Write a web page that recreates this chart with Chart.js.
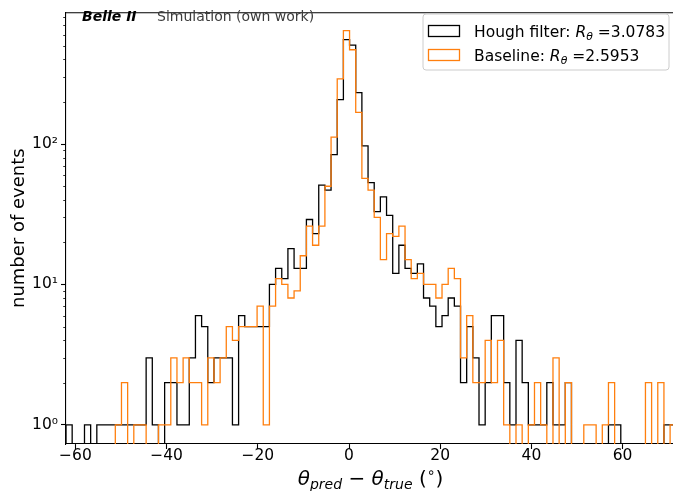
<!DOCTYPE html>
<html>
<head>
<meta charset="utf-8">
<script src="https://cdn.jsdelivr.net/npm/chart.js@4.4.1/dist/chart.umd.min.js"></script>
<style>
  html, body { margin: 0; padding: 0; background: #ffffff; overflow: hidden; }
  #wrap { position: relative; width: 680px; height: 491px; }
</style>
</head>
<body>
<div id="wrap"><canvas id="hist" width="680" height="491"></canvas></div>
<script>
// Histogram binning of the angle residual (degrees): 100 equal bins
const binEdgeMin = -62.07;
const binWidth = 1.352;

// Counts per bin, Hough filter
const houghCounts = [
  1, 0, 0, 1, 0, 1, 1, 1, 1, 1,
  1, 1, 1, 3, 1, 0, 2, 2, 1, 1,
  3, 6, 5, 2, 3, 3, 3, 1, 6, 5,
  5, 5, 5, 10, 13, 11, 18, 13, 13, 29,
  23, 51, 47, 84, 207, 554, 506, 232, 97, 53,
  33, 42, 31, 12, 19, 13, 12, 14, 8, 7,
  5, 6, 8, 7, 2, 5, 3, 1, 2, 6,
  6, 2, 1, 4, 2, 1, 1, 1, 2, 1,
  1, 2, 0, 0, 0, 0, 0, 0, 1, 1,
  0, 0, 0, 0, 0, 0, 0, 1, 1, 0
];

// Counts per bin, baseline
const baselineCounts = [
  0, 0, 0, 0, 0, 0, 0, 0, 1, 2,
  0, 1, 1, 0, 0, 1, 1, 3, 2, 3,
  2, 2, 1, 3, 2, 3, 5, 4, 5, 5,
  5, 7, 1, 7, 11, 10, 8, 9, 16, 26,
  19, 26, 50, 112, 291, 641, 469, 168, 57, 47,
  30, 15, 23, 22, 26, 15, 11, 12, 10, 10,
  8, 10, 13, 11, 3, 6, 2, 2, 4, 2,
  4, 1, 0, 1, 0, 1, 2, 1, 0, 3,
  0, 2, 0, 0, 1, 1, 0, 1, 2, 0,
  0, 0, 0, 0, 2, 0, 2, 0, 1, 1
];

const seriesNames = ['Hough filter: ', 'Baseline: '];
const resolutionValues = ['3.0783', '2.5953'];
const seriesColors = ['#000000', '#ff7f0e'];

const xTickValues = [-60, -40, -20, 0, 20, 40, 60];
const yMajorTicks = [1, 10, 100];
const yMajorLabels = ['10\u2070', '10\u00b9', '10\u00b2'];
const yMinorTicks = [2, 3, 4, 5, 6, 7, 8, 9, 20, 30, 40, 50, 60, 70, 80, 90, 200, 300, 400, 500, 600, 700, 800];

const xMin = -62.07, xMax = 71.5;
const yMin = 0.73, yMax = 867;

const FONT = '"DejaVu Sans", sans-serif';

// Step outline through the bin edges; empty bins drop below the visible axis range
function stepPoints(counts) {
  const emptyLevel = 0.05;
  const pts = [{ x: binEdgeMin, y: emptyLevel }];
  counts.forEach((c, i) => pts.push({ x: binEdgeMin + i * binWidth, y: c > 0 ? c : emptyLevel }));
  pts.push({ x: binEdgeMin + counts.length * binWidth, y: emptyLevel });
  return pts;
}

function fontFor(p, size) {
  return (p.i ? 'italic ' : '') + (p.b ? 'bold ' : '') + (size * (p.s || 1)).toFixed(2) + 'px ' + FONT;
}
function runWidth(ctx, parts, size) {
  let w = 0;
  for (const p of parts) { ctx.font = fontFor(p, size); w += ctx.measureText(p.t).width; }
  return w;
}
function drawRun(ctx, parts, x, y, size, color) {
  ctx.fillStyle = color;
  ctx.textBaseline = 'alphabetic';
  ctx.textAlign = 'left';
  for (const p of parts) {
    ctx.font = fontFor(p, size);
    ctx.fillText(p.t, x, y + (p.dy || 0) * size);
    x += ctx.measureText(p.t).width;
  }
  return x;
}

const decorations = {
  id: 'decorations',
  afterDraw(chart) {
    const { ctx, chartArea: a, scales } = chart;
    ctx.save();

    // top and right frame lines
    ctx.strokeStyle = '#000';
    ctx.lineWidth = 1.1;
    ctx.beginPath();
    ctx.moveTo(a.left, a.top + 0.5); ctx.lineTo(a.right, a.top + 0.5);
    ctx.moveTo(a.right, a.top); ctx.lineTo(a.right, a.bottom);
    ctx.stroke();

    // minor log ticks on the y axis
    ctx.lineWidth = 0.8;
    ctx.beginPath();
    for (const v of yMinorTicks) {
      if (v < yMin || v > yMax) continue;
      const py = Math.round(scales.y.getPixelForValue(v)) + 0.5;
      ctx.moveTo(a.left - 2.8, py); ctx.lineTo(a.left, py);
    }
    ctx.stroke();

    // experiment tag
    drawRun(ctx, [{ t: 'Belle II', b: 1, i: 1 }], 82, 21, 14, '#000');
    drawRun(ctx, [{ t: 'Simulation (own work)' }], 157, 21, 14, '#3c3c3c');

    // x axis title
    const xl = [
      { t: '\u03b8', i: 1 }, { t: 'pred', i: 1, s: 0.7, dy: 0.2 },
      { t: ' \u2212 ' },
      { t: '\u03b8', i: 1 }, { t: 'true', i: 1, s: 0.7, dy: 0.2 },
      { t: ' (' }, { t: '\u2218', s: 0.7, dy: -0.42 }, { t: ')' }
    ];
    const xs = 20;
    const xw = runWidth(ctx, xl, xs);
    drawRun(ctx, xl, (a.left + a.right) / 2 - xw / 2, 485, xs, '#000');

    // legend
    const lx = 423, ly = 14, lw = 246, lh = 56, r = 3;
    ctx.beginPath();
    ctx.moveTo(lx + r, ly);
    ctx.arcTo(lx + lw, ly, lx + lw, ly + lh, r);
    ctx.arcTo(lx + lw, ly + lh, lx, ly + lh, r);
    ctx.arcTo(lx, ly + lh, lx, ly, r);
    ctx.arcTo(lx, ly, lx + lw, ly, r);
    ctx.closePath();
    ctx.fillStyle = 'rgba(255,255,255,0.8)';
    ctx.fill();
    ctx.strokeStyle = '#cccccc';
    ctx.lineWidth = 1;
    ctx.stroke();

    const ls = 15.5;
    seriesNames.forEach((name, k) => {
      const cy = 31 + k * 24;
      ctx.strokeStyle = seriesColors[k];
      ctx.lineWidth = 1.3;
      ctx.strokeRect(428.5, cy - 5.5, 31, 11);
      drawRun(ctx, [
        { t: name }, { t: 'R', i: 1 }, { t: '\u03b8', i: 1, s: 0.7, dy: 0.2 },
        { t: ' =' + resolutionValues[k] }
      ], 474, cy + 5.5, ls, '#000');
    });

    ctx.restore();
  }
};

new Chart(document.getElementById('hist'), {
  type: 'line',
  data: {
    datasets: [
      {
        label: 'Baseline',
        data: stepPoints(baselineCounts),
        borderColor: seriesColors[1],
        borderWidth: 1.3,
        stepped: 'before',
        pointRadius: 0,
        fill: false,
        order: 0
      },
      {
        label: 'Hough filter',
        data: stepPoints(houghCounts),
        borderColor: seriesColors[0],
        borderWidth: 1.3,
        stepped: 'before',
        pointRadius: 0,
        fill: false,
        order: 1
      }
    ]
  },
  options: {
    responsive: false,
    animation: false,
    devicePixelRatio: 1,
    layout: { padding: { left: 0, top: 8, right: 5, bottom: 0 } },
    plugins: { legend: { display: false }, tooltip: { enabled: false } },
    scales: {
      x: {
        type: 'linear',
        min: xMin,
        max: xMax,
        bounds: 'data',
        afterBuildTicks: (s) => { s.ticks = xTickValues.map(v => ({ value: v })); },
        afterFit: (s) => { s.height = 47; },
        ticks: {
          autoSkip: false,
          maxRotation: 0,
          padding: -2,
          color: '#000',
          font: { family: FONT, size: 15.5 },
          callback: (v) => (v < 0 ? '\u2212' + Math.abs(v) : String(v))
        },
        grid: { drawOnChartArea: false, drawTicks: true, tickLength: 5, tickColor: '#000', tickWidth: 1.1 },
        border: { display: true, color: '#000', width: 1.1 }
      },
      y: {
        type: 'logarithmic',
        min: yMin,
        max: yMax,
        bounds: 'data',
        afterBuildTicks: (s) => { s.ticks = yMajorTicks.map(v => ({ value: v, major: true })); },
        afterFit: (s) => { s.width = 66; },
        ticks: {
          autoSkip: false,
          padding: 3,
          color: '#000',
          font: { family: FONT, size: 15.5 },
          callback: (v, i) => yMajorLabels[i]
        },
        grid: { drawOnChartArea: false, drawTicks: true, tickLength: 5, tickColor: '#000', tickWidth: 1.1 },
        border: { display: true, color: '#000', width: 1.1 },
        title: {
          display: true,
          text: 'number of events',
          color: '#000',
          font: { family: FONT, size: 18 },
          padding: { top: 9, bottom: 0 }
        }
      }
    }
  },
  plugins: [decorations]
});
</script>
</body>
</html>
